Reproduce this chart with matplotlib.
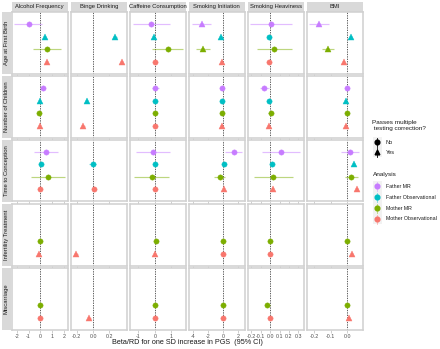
import numpy as np
import matplotlib
matplotlib.use('Agg')
import matplotlib.pyplot as plt
from matplotlib.lines import Line2D
from matplotlib.patches import Rectangle

plt.rcParams['font.family'] = ['Liberation Sans', 'DejaVu Sans']

outcomes = ['Age at First Birth', 'Number of Children', 'Time to Conception',
            'Infertility Treatment', 'Miscarriage']
exposures = ['Alcohol Frequency', 'Binge Drinking', 'Caffeine Consumption',
             'Smoking Initiation', 'Smoking Heaviness', 'BMI']
analyses = ['Father MR', 'Father Observational', 'Mother MR', 'Mother Observational']
colors = ['#C77CFF', '#00BFC4', '#7CAE00', '#F8766D']
N = np.nan

# rows = outcomes, columns = exposures
fmr_est = [[-0.94, N, -0.23, -2.80, 0.008, -0.170],
           [0.20, N, 0.03, -0.10, -0.065, 0.000],
           [0.45, N, -0.11, 1.47, 0.118, 0.015],
           [N, N, N, N, N, N],
           [N, N, N, N, N, N]]
fmr_lo = [[-2.20, N, -1.30, -4.10, -0.215, -0.233],
          [0.08, N, -0.17, -0.30, -0.110, -0.010],
          [-0.57, N, -1.12, 0.31, -0.083, -0.039],
          [N, N, N, N, N, N],
          [N, N, N, N, N, N]]
fmr_hi = [[0.17, N, 0.90, -1.56, 0.233, -0.112],
          [0.32, N, 0.23, 0.10, -0.015, 0.010],
          [1.48, N, 0.90, 2.57, 0.323, 0.072],
          [N, N, N, N, N, N],
          [N, N, N, N, N, N]]
fmr_pass = [[0, 0, 0, 1, 0, 1],
            [0, 0, 0, 0, 0, 0],
            [0, 0, 0, 0, 0, 0],
            [0, 0, 0, 0, 0, 0],
            [0, 0, 0, 0, 0, 0]]

fo_est = [[0.37, 0.27, -0.07, -0.23, -0.010, 0.025],
          [-0.03, -0.08, 0.03, -0.10, -0.008, -0.007],
          [0.03, 0.00, 0.03, 0.08, 0.018, 0.045],
          [N, N, N, N, N, N],
          [N, N, N, N, N, N]]
fo_lo = [[0.29, 0.25, -0.12, -0.40, -0.018, 0.020],
         [-0.11, -0.10, -0.02, -0.25, -0.016, -0.012],
         [-0.05, -0.045, -0.02, -0.08, 0.010, 0.040],
         [N, N, N, N, N, N],
         [N, N, N, N, N, N]]
fo_hi = [[0.45, 0.29, -0.02, -0.06, -0.002, 0.030],
         [0.05, -0.06, 0.08, 0.05, 0.000, -0.002],
         [0.11, 0.037, 0.08, 0.24, 0.026, 0.050],
         [N, N, N, N, N, N],
         [N, N, N, N, N, N]]
fo_pass = [[1, 1, 1, 1, 0, 1],
           [1, 1, 0, 0, 0, 1],
           [0, 0, 0, 0, 0, 1],
           [0, 0, 0, 0, 0, 0],
           [0, 0, 0, 0, 0, 0]]

mmr_est = [[0.54, N, 0.78, -2.67, 0.043, -0.116],
           [-0.11, N, 0.03, -0.10, 0.005, 0.000],
           [0.66, N, -0.17, -0.36, 0.035, 0.025],
           [-0.03, N, 0.07, 0.00, 0.000, 0.000],
           [0.00, N, 0.03, 0.00, -0.035, 0.000]]
mmr_lo = [[-0.66, N, -0.17, -3.56, -0.143, -0.155],
          [-0.25, N, -0.10, -0.40, -0.025, -0.010],
          [-0.77, N, -1.24, -1.25, -0.172, -0.015],
          [-0.10, N, -0.02, -0.15, -0.010, -0.005],
          [-0.07, N, -0.05, -0.15, -0.045, -0.005]]
mmr_hi = [[1.77, N, 1.71, -1.69, 0.233, -0.078],
          [0.03, N, 0.15, 0.20, 0.035, 0.010],
          [2.08, N, 0.88, 0.31, 0.244, 0.065],
          [0.04, N, 0.16, 0.15, 0.010, 0.005],
          [0.07, N, 0.11, 0.15, -0.025, 0.005]]
mmr_pass = [[0, 0, 0, 1, 0, 1],
            [0, 0, 0, 0, 0, 0],
            [0, 0, 0, 0, 0, 0],
            [0, 0, 0, 0, 0, 0],
            [0, 0, 0, 0, 0, 0]]

mo_est = [[0.54, 0.35, 0.03, -0.13, -0.010, -0.020],
          [-0.06, -0.12, 0.03, -0.10, -0.010, -0.005],
          [0.00, 0.01, 0.03, 0.08, 0.029, 0.062],
          [-0.14, -0.21, -0.01, 0.00, 0.000, 0.030],
          [-0.03, -0.045, 0.03, 0.00, 0.000, 0.010]]
mo_lo = [[0.47, 0.33, -0.02, -0.25, -0.016, -0.024],
         [-0.12, -0.14, -0.02, -0.20, -0.016, -0.009],
         [-0.06, -0.01, -0.02, -0.04, 0.022, 0.058],
         [-0.21, -0.23, -0.06, -0.10, -0.006, 0.026],
         [-0.09, -0.065, -0.02, -0.10, -0.006, 0.006]]
mo_hi = [[0.61, 0.37, 0.08, -0.01, -0.004, -0.016],
         [0.00, -0.10, 0.08, 0.00, -0.004, -0.001],
         [0.06, 0.03, 0.08, 0.20, 0.036, 0.066],
         [-0.07, -0.19, 0.04, 0.10, 0.006, 0.034],
         [0.03, -0.025, 0.08, 0.10, 0.006, 0.014]]
mo_pass = [[1, 1, 0, 1, 0, 1],
           [1, 1, 0, 1, 1, 1],
           [0, 0, 0, 1, 1, 1],
           [1, 1, 1, 0, 0, 1],
           [0, 1, 0, 0, 0, 1]]

xlims = [(-2.4, 2.3), (-0.27, 0.41), (-1.5, 1.85), (-4.5, 2.85),
         (-0.235, 0.355), (-0.245, 0.094)]
xticks = [[-2, -1, 0, 1, 2], [-0.2, 0.0, 0.2], [-1, 0, 1], [-4, -2, 0, 2],
          [-0.2, -0.1, 0.0, 0.1, 0.2, 0.3], [-0.2, -0.1, 0.0]]
xticklabels = [['-2', '-1', '0', '1', '2'], ['-0.2', '0.0', '0.2'], ['-1', '0', '1'],
               ['-4', '-2', '0', '2'], ['-0.2', '-0.1', '0.0', '0.1', '0.2', '0.3'],
               ['-0.2', '-0.1', '0.0']]

series = [(fmr_est, fmr_lo, fmr_hi, fmr_pass),
          (fo_est, fo_lo, fo_hi, fo_pass),
          (mmr_est, mmr_lo, mmr_hi, mmr_pass),
          (mo_est, mo_lo, mo_hi, mo_pass)]

W, H = 440, 349
fig = plt.figure(figsize=(W / 100, H / 100), dpi=100)
fig.patch.set_facecolor('white')

ov = fig.add_axes([0, 0, 1, 1], zorder=0)
ov.set_xlim(0, W)
ov.set_ylim(H, 0)
ov.axis('off')

def px_axes(x0, y0, w, h):
    return fig.add_axes([x0 / W, 1 - (y0 + h) / H, w / W, h / H], zorder=1)

strip_fill = '#D9D9D9'
border_col = '#D0D0D0'
PW, PH = 55.5, 61.5
for i, outc in enumerate(outcomes):
    y0 = 12 + 64 * i
    ov.add_patch(Rectangle((1.5, y0), 9.5, PH, facecolor=strip_fill, edgecolor='none'))
    ov.text(6.4, y0 + PH / 2, outc, rotation=90, ha='center', va='center',
            fontsize=4.2, color='#1A1A1A')
    for j, expo in enumerate(exposures):
        x0 = 12 + 59 * j
        if i == 0:
            ov.add_patch(Rectangle((x0, 2), PW, 9.5, facecolor=strip_fill, edgecolor='none'))
            ov.text(x0 + PW / 2, 6.9, expo, ha='center', va='center',
                    fontsize=4.2, color='#1A1A1A')
        ax = px_axes(x0, y0, PW, PH)
        ax.set_facecolor('white')
        for s in ax.spines.values():
            s.set_color(border_col)
            s.set_linewidth(1.1)
        ax.axvline(0, color='#444444', lw=0.6, ls=(0, (1.6, 1.3)), zorder=1)
        for k, (est, lo, hi, pas) in enumerate(series):
            e = est[i][j]
            if np.isnan(e):
                continue
            yy = 3 - k
            ax.plot([lo[i][j], hi[i][j]], [yy, yy], color=colors[k], lw=0.85,
                    alpha=0.5, solid_capstyle='butt', zorder=2)
            ax.plot([e], [yy], marker='^' if pas[i][j] else 'o', ms=3.8,
                    color=colors[k], mec=colors[k], mew=0.3, zorder=3)
        ax.set_xlim(*xlims[j])
        ax.set_ylim(-0.96, 3.96)
        ax.set_yticks([])
        ax.set_xticks(xticks[j])
        if i == len(outcomes) - 1:
            ax.set_xticklabels(xticklabels[j])
        else:
            ax.set_xticklabels([])
        ax.tick_params(axis='x', length=1.8, width=0.5, color='#BBBBBB',
                       labelsize=3.8, labelcolor='#4D4D4D', pad=1.5)

ov.text(187, 343, 'Beta/RD for one SD increase in PGS  (95% CI)', ha='center',
        va='center', fontsize=5.2, color='#1A1A1A')

# legends
ov.text(372.5, 122.7, 'Passes multiple', ha='left', va='center', fontsize=4.6, color='#1A1A1A')
ov.text(372.5, 128.5, ' testing correction?', ha='left', va='center', fontsize=4.6, color='#1A1A1A')
kx = 377.3
for lbl, mk, yk in [('No', 'o', 142.3), ('Yes', '^', 152.3)]:
    ov.add_patch(Rectangle((kx - 4.7, yk - 5), 9.4, 10, facecolor='#F2F2F2', edgecolor='none'))
    ov.add_line(Line2D([kx, kx], [yk - 4.5, yk + 4.5], color='black', lw=0.6))
    ov.add_line(Line2D([kx], [yk], marker=mk, ms=3.4, color='black', lw=0))
    ov.text(386, yk, lbl, ha='left', va='center', fontsize=4.0, color='#1A1A1A')

ov.text(372.5, 174.3, 'Analysis', ha='left', va='center', fontsize=4.6, color='#1A1A1A')
for k, (lbl, yk) in enumerate(zip(analyses, [186.3, 197.3, 208.3, 219.0])):
    ov.add_patch(Rectangle((kx - 4.7, yk - 5.3), 9.4, 10.6, facecolor='#F2F2F2', edgecolor='none'))
    ov.add_line(Line2D([kx, kx], [yk - 4.5, yk + 4.5], color=colors[k], lw=0.6, alpha=0.5))
    ov.add_line(Line2D([kx], [yk], marker='o', ms=3.4, color=colors[k], lw=0))
    ov.text(386, yk, lbl, ha='left', va='center', fontsize=3.75, color='#1A1A1A')

fig.savefig('out.png', dpi=100, facecolor='white')
